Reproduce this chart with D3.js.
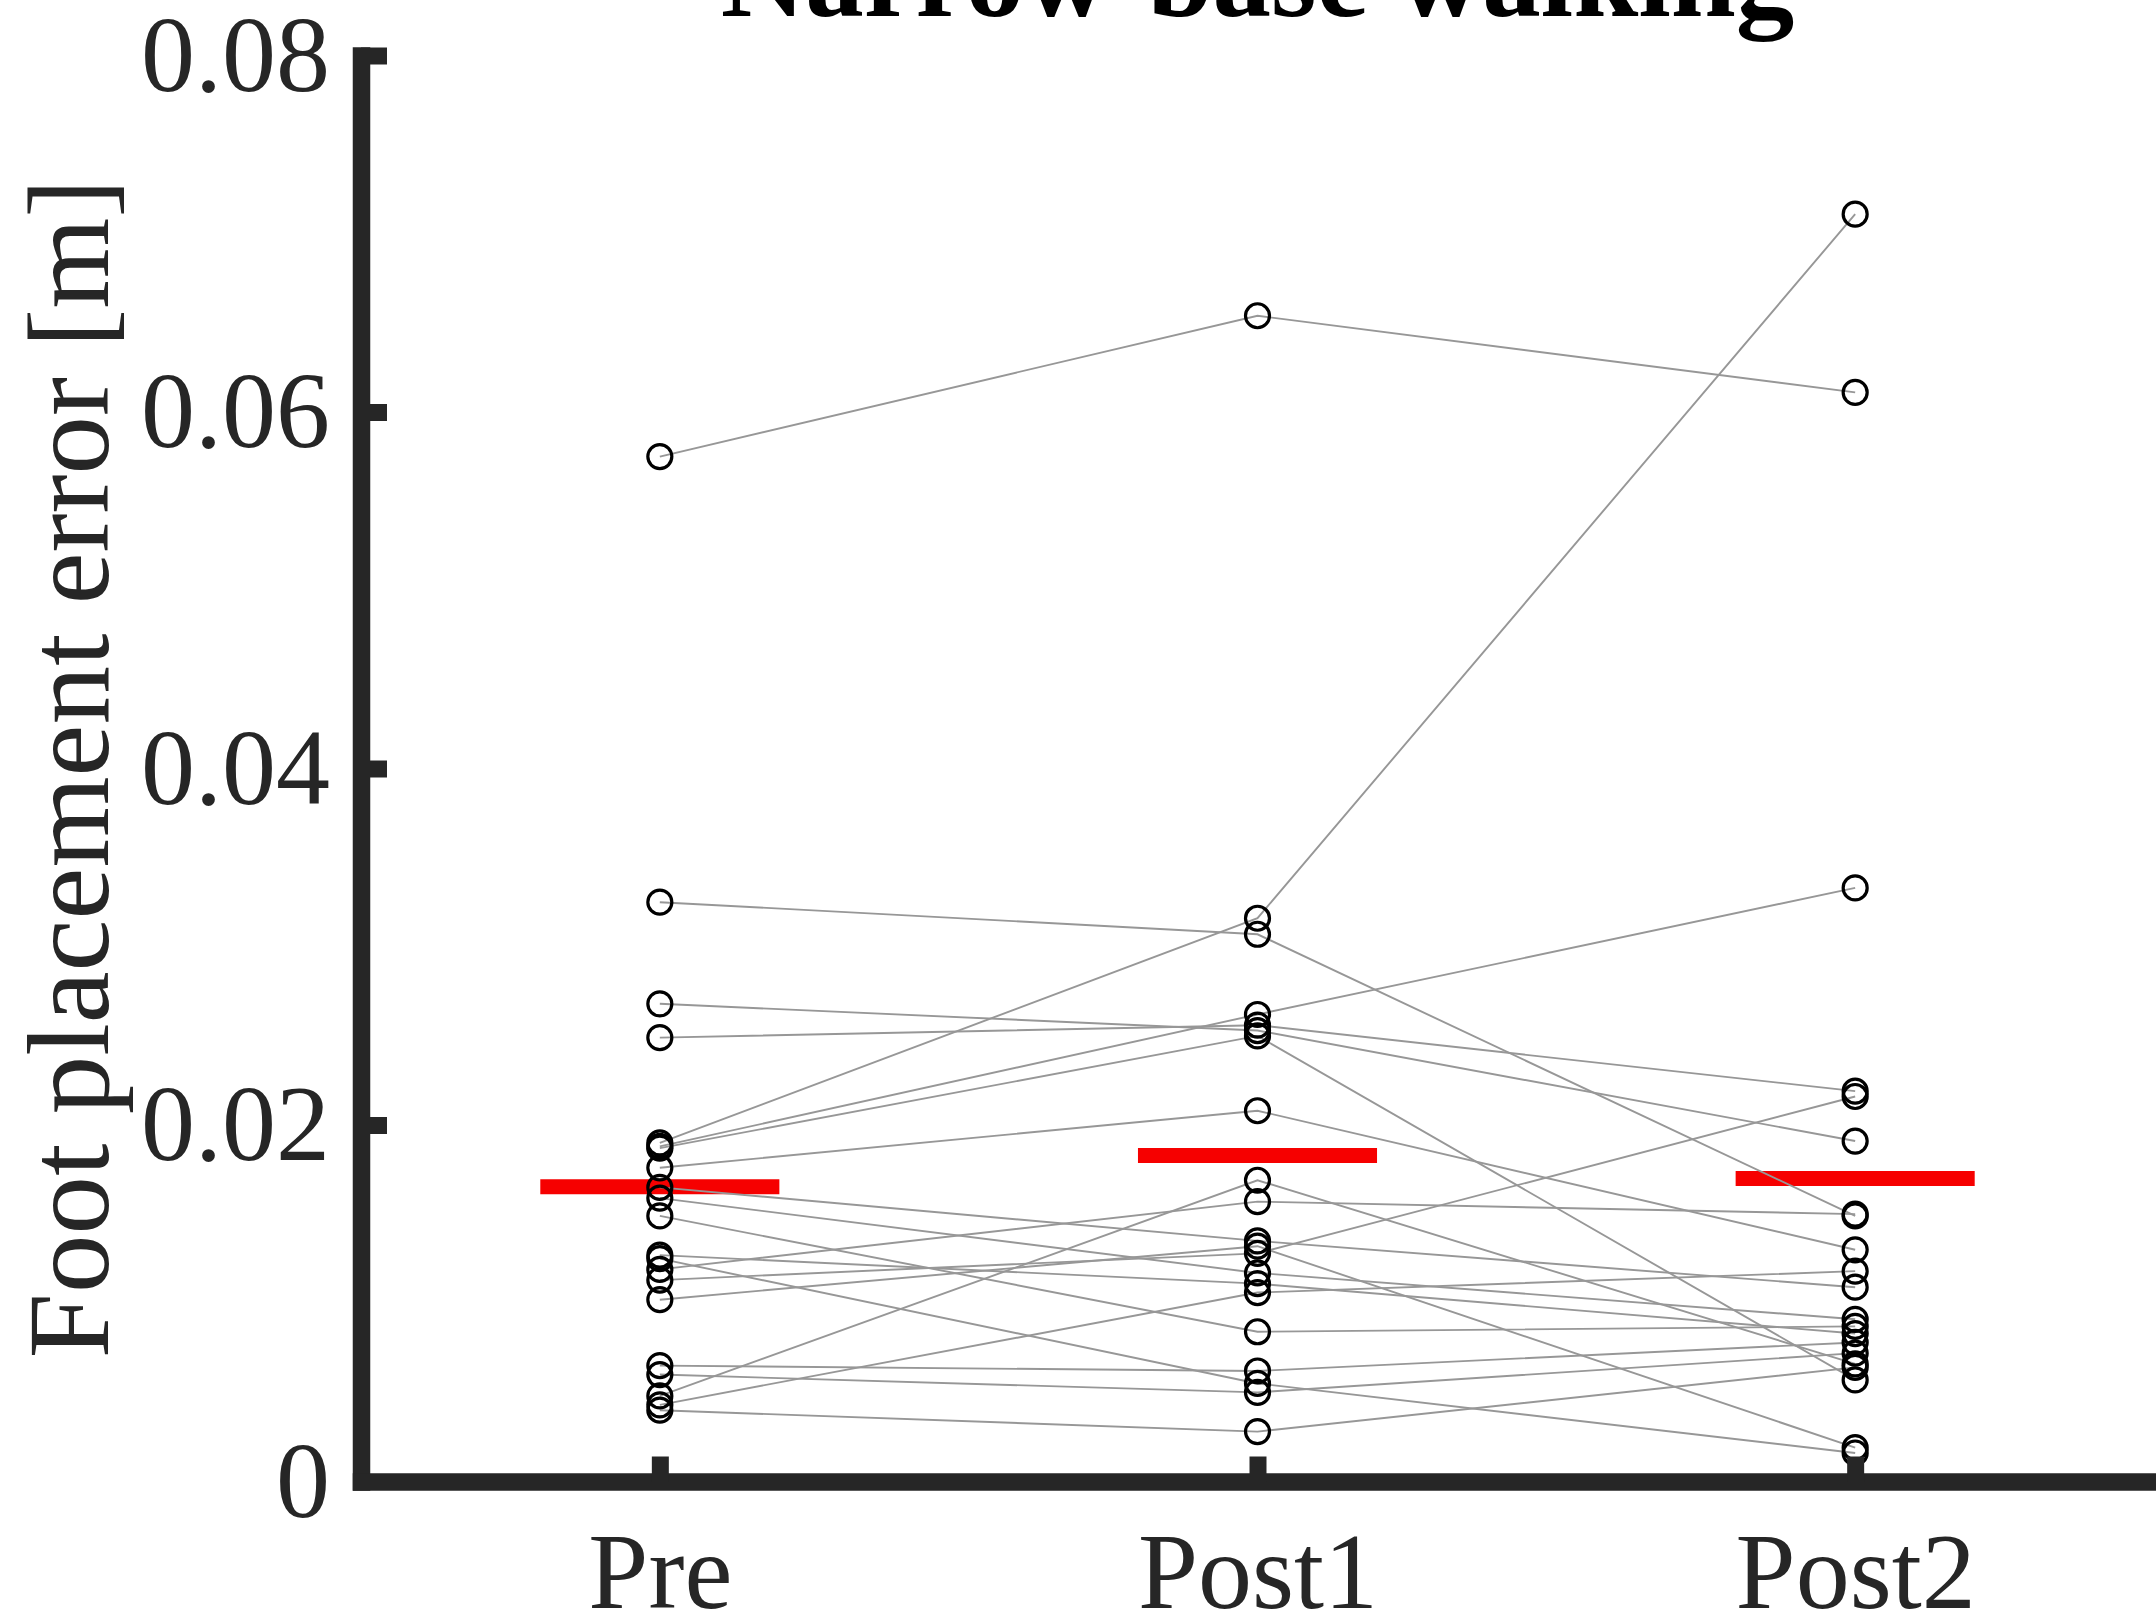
<!DOCTYPE html>
<html>
<head>
<meta charset="utf-8">
<script src="https://cdn.jsdelivr.net/npm/d3@7"></script>
<style>
  html, body { margin: 0; padding: 0; background: #fff; }
  svg { display: block; }
</style>
</head>
<body>
<script>
// Foot placement error per participant, one entry per participant in each session
const conditions = ["Pre", "Post1", "Post2"];
const pre   = [0.0575, 0.0325, 0.0268, 0.0249, 0.0190, 0.0188, 0.0187, 0.0176, 0.0165, 0.0159, 0.0149,
               0.0127, 0.0125, 0.0119, 0.0113, 0.0102, 0.0065, 0.0060, 0.0048, 0.0043, 0.0040];
const post1 = [0.0654, 0.0307, 0.0253, 0.0256, 0.0316, 0.0262, 0.0250, 0.0208, 0.0135, 0.0117, 0.0084,
               0.0111, 0.0055, 0.0157, 0.0128, 0.0132, 0.0062, 0.0050, 0.0169, 0.0106, 0.0028];
const post2 = [0.0611, 0.0149, 0.0191, 0.0219, 0.0711, 0.0333, 0.0057, 0.0130, 0.0109, 0.0091, 0.0087,
               0.0083, 0.0016, 0.0150, 0.0216, 0.0019, 0.0078, 0.0072, 0.0066, 0.0118, 0.0064];
const yTickValues = [0, 0.02, 0.04, 0.06, 0.08];
const yTickLabels = ["0", "0.02", "0.04", "0.06", "0.08"];
const titleText = "Narrow-base walking";
const yLabelText = "Foot placement error [m]";

const W = 2156, H = 1620;
const axisColor = "#262626";
const fontFamily = "'Liberation Serif', 'Times New Roman', Times, serif";

const svg = d3.select("body").append("svg")
  .attr("width", W).attr("height", H)
  .attr("viewBox", `0 0 ${W} ${H}`);

const x = d3.scaleLinear().domain([0.5, 3.5]).range([361, 2154]);
const y = d3.scaleLinear().domain([0, 0.08]).range([1481.5, 55.5]);

const sessions = [pre, post1, post2];
const subjects = pre.map((_, i) => sessions.map(s => s[i]));
const means = sessions.map(s => d3.mean(s));

// group means as short red bars
svg.append("g").selectAll("line").data(means).join("line")
  .attr("x1", (d, i) => x(i + 1 - 0.2))
  .attr("x2", (d, i) => x(i + 1 + 0.2))
  .attr("y1", d => y(d)).attr("y2", d => y(d))
  .attr("stroke", "#f60000").attr("stroke-width", 15);

// per-participant connecting lines
const line = d3.line().x((d, i) => x(i + 1)).y(d => y(d));
svg.append("g").selectAll("path").data(subjects).join("path")
  .attr("d", line)
  .attr("fill", "none")
  .attr("stroke", "#979797")
  .attr("stroke-width", 1.9);

// individual observations as open circles
const pts = [];
sessions.forEach((s, ci) => s.forEach(v => pts.push({ c: ci + 1, v })));
svg.append("g").selectAll("circle").data(pts).join("circle")
  .attr("cx", d => x(d.c)).attr("cy", d => y(d.v))
  .attr("r", 12)
  .attr("fill", "none")
  .attr("stroke", "#000")
  .attr("stroke-width", 3.2);

// y axis with inward ticks
const yAxis = d3.axisLeft(y)
  .tickValues(yTickValues)
  .tickFormat((d, i) => yTickLabels[i])
  .tickSizeInner(-26).tickSizeOuter(0).tickPadding(31);
const gy = svg.append("g").attr("transform", `translate(${x(0.5)},0)`).call(yAxis);

// x axis with inward ticks
const xAxis = d3.axisBottom(x)
  .tickValues([1, 2, 3])
  .tickFormat((d, i) => conditions[i])
  .tickSizeInner(-25).tickSizeOuter(0).tickPadding(50);
const gx = svg.append("g").attr("transform", `translate(0,${y(0)})`).call(xAxis);

[gy, gx].forEach(g => {
  g.select(".domain").attr("stroke", axisColor).attr("stroke-width", 17.5)
    .attr("stroke-linecap", "square");
  g.selectAll(".tick line").attr("stroke", axisColor).attr("stroke-width", 17);
  g.selectAll(".tick text")
    .attr("fill", axisColor)
    .style("font-family", fontFamily)
    .style("font-size", "108px");
});
gy.selectAll(".tick").filter(d => d === 0).select("line").remove();

// axis title
svg.append("text")
  .attr("transform", `translate(108,${(y(0) + y(0.08)) / 2}) rotate(-90)`)
  .attr("text-anchor", "middle")
  .attr("fill", axisColor)
  .style("font-family", fontFamily)
  .style("font-size", "117px")
  .text(yLabelText);

// chart title
svg.append("text")
  .attr("x", (x(0.5) + x(3.5)) / 2)
  .attr("y", 16)
  .attr("text-anchor", "middle")
  .attr("fill", "#000")
  .style("font-family", fontFamily)
  .style("font-weight", "bold")
  .style("font-size", "117px")
  .text(titleText);
</script>
</body>
</html>
